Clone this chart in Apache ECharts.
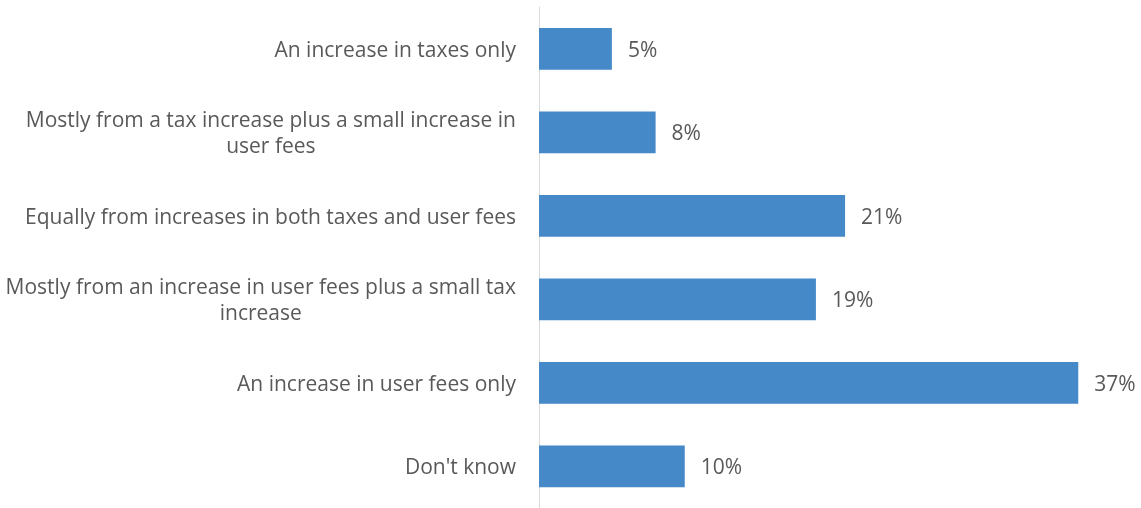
<!DOCTYPE html>
<html>
<head>
<meta charset="utf-8">
<script src="https://cdn.jsdelivr.net/npm/echarts@6/dist/echarts.min.js"></script>
<style>
  html, body { margin: 0; padding: 0; background: #ffffff; }
  #chart { width: 1141px; height: 508px; }
</style>
</head>
<body>
<div id="chart"></div>
<script>
// Survey answers, top to bottom (line breaks mark the wrapped labels)
const categories = [
  'An increase in taxes only',
  'Mostly from a tax increase plus a small increase in\nuser fees',
  'Equally from increases in both taxes and user fees',
  'Mostly from an increase in user fees plus a small tax\nincrease',
  'An increase in user fees only',
  "Don't know"
];
// Share of respondents, percent
const values = [5, 8, 21, 19, 37, 10];

const FONT = '"Open Sans", Lato, sans-serif';
const TEXT = '#595959';
const SIZE = 21;

const chart = echarts.init(document.getElementById('chart'), null, { renderer: 'canvas' });

chart.setOption({
  animation: false,
  grid: { left: 539, right: 19, top: 7, height: 505, containLabel: false },
  xAxis: {
    type: 'value',
    min: 0,
    max: 40,
    show: false
  },
  yAxis: {
    type: 'category',
    inverse: true,
    data: categories,
    axisTick: { show: false },
    axisLine: { show: true, lineStyle: { color: '#d9d9d9', width: 1 } },
    splitLine: { show: false },
    axisLabel: {
      margin: 23,
      color: TEXT,
      fontFamily: FONT,
      fontSize: SIZE,
      lineHeight: 26,
      padding: [4, 0, 0, 0],
      // each wrapped line is centred within the label block
      formatter: function (v) {
        return v.split('\n').map(function (s) { return '{c|' + s + '}'; }).join('\n');
      },
      rich: {
        c: { align: 'center', color: TEXT, fontFamily: FONT, fontSize: SIZE, lineHeight: 26 }
      }
    }
  },
  series: [{
    type: 'bar',
    data: values,
    barCategoryGap: '50%',
    itemStyle: { color: '#4589c9' },
    label: {
      show: true,
      position: 'right',
      distance: 16,
      offset: [0, 2],
      color: TEXT,
      fontFamily: FONT,
      fontSize: SIZE,
      formatter: '{c}%'
    }
  }]
});
</script>
</body>
</html>
